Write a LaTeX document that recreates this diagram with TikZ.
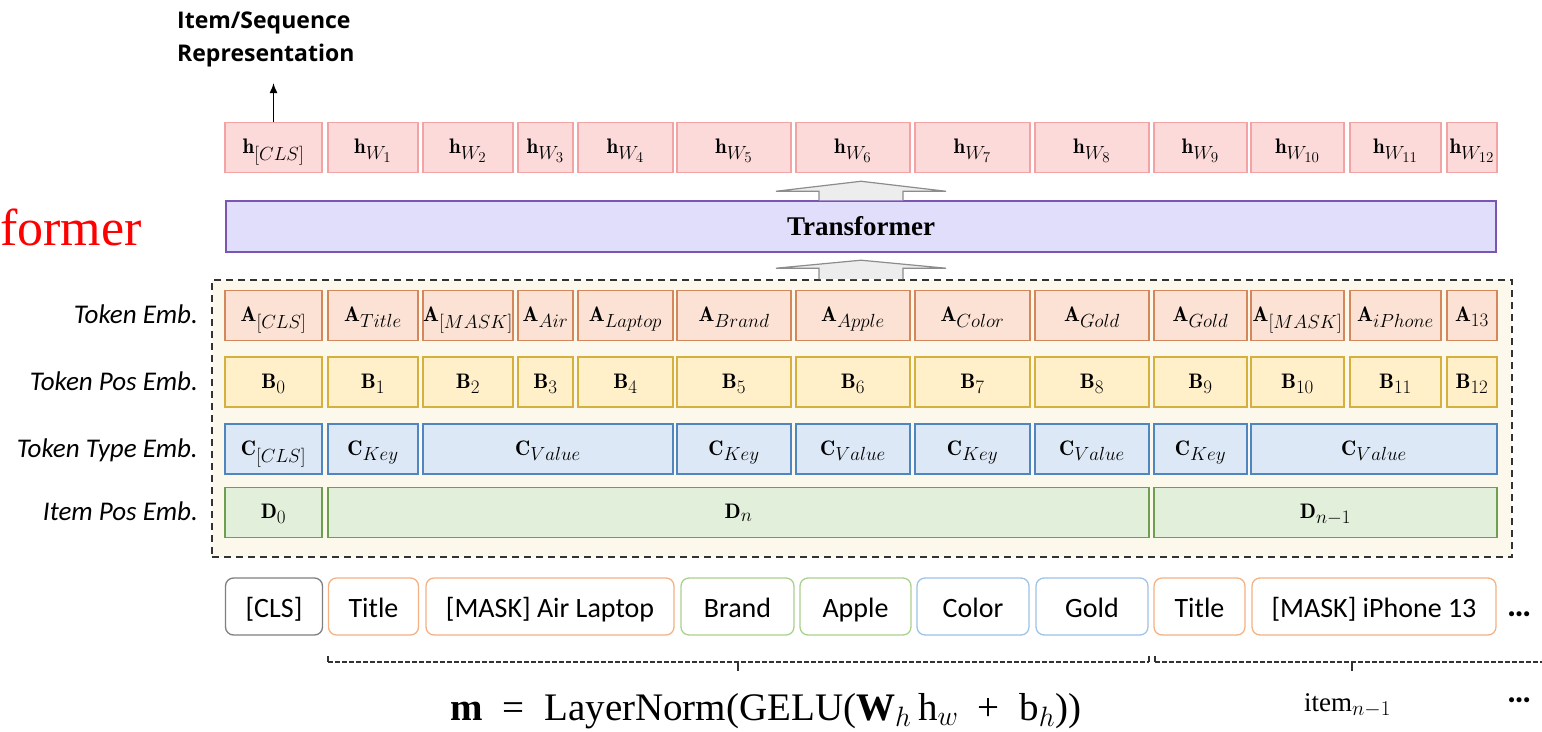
\RequirePackage{fix-cm}
\documentclass[tikz,border=0pt]{standalone}
\usepackage{fontspec}
\newfontfamily\cali{Carlito}
\newfontfamily\osans{Open Sans}
\newfontfamily\tnr{Liberation Serif}
\usetikzlibrary{arrows.meta}
\DeclareMathSizes{21}{21}{19}{15}
\DeclareMathSizes{27}{27}{21}{15}
\DeclareMathSizes{39}{39}{28}{21}

\definecolor{hfill}{HTML}{FCDADA}
\definecolor{hline}{HTML}{F2A3A3}
\definecolor{afill}{HTML}{FBE2D5}
\definecolor{aline}{HTML}{D4875A}
\definecolor{bfill}{HTML}{FFF0CA}
\definecolor{bline}{HTML}{D6B03C}
\definecolor{cfill}{HTML}{DCE8F6}
\definecolor{cline}{HTML}{4F86C0}
\definecolor{dfill}{HTML}{E2EFDA}
\definecolor{dline}{HTML}{6E9E4F}
\definecolor{tfill}{HTML}{E0DEFA}
\definecolor{tline}{HTML}{7A56B2}
\definecolor{efill}{HTML}{FDF8EC}
\definecolor{clsline}{HTML}{7F7F7F}
\definecolor{orline}{HTML}{F4B183}
\definecolor{grline}{HTML}{A9D18E}
\definecolor{blline}{HTML}{9DC3E6}

\begin{document}
\begin{tikzpicture}[x=1pt, y=-1pt,
  cell/.style={draw, line width=1.5pt, minimum height=50, inner sep=0pt, text height=16pt, text depth=4pt, font=\fontsize{21}{24}\selectfont},
  hcell/.style={cell, draw=hline, fill=hfill},
  acell/.style={cell, draw=aline, fill=afill},
  bcell/.style={cell, draw=bline, fill=bfill},
  ccell/.style={cell, draw=cline, fill=cfill},
  dcell/.style={cell, draw=dline, fill=dfill},
  rowlabel/.style={anchor=base east, inner sep=0pt, font=\cali\itshape\fontsize{27}{30}\selectfont},
  token/.style={draw, rounded corners=8pt, line width=1.3pt, fill=white, minimum height=57, inner sep=0pt, text height=21pt, text depth=0pt, font=\cali\fontsize{28}{32}\selectfont},
  dots/.style={inner sep=0pt, font=\cali\bfseries\fontsize{34}{36}\selectfont},
  blockarr/.style={draw=black!45, fill=black!7, line width=1.2pt, line join=miter},
  brace/.style={black!80, line width=1.1pt, dash pattern=on 5pt off 2pt},
  tick/.style={black!80, line width=1.3pt}]
\useasboundingbox (0,0) rectangle (1542,731);

\node[anchor=base west, inner sep=0pt, text=red, font=\tnr\fontsize{52}{56}\selectfont] (cut) at (0,245) {former};

\node[anchor=north west, align=left, inner sep=0pt, font=\osans\bfseries\fontsize{23}{33}\selectfont] (rep) at (177,12) {Item/Sequence\\Representation};
\coordinate (repout) at (273.5,83);

\node[hcell, minimum width=97] (h0) at (273.5,147.5) {$\mathbf{h}_{[CLS]}$};
\node[hcell, minimum width=90] (h1) at (373,147.5) {$\mathbf{h}_{W_1}$};
\node[hcell, minimum width=90] (h2) at (468,147.5) {$\mathbf{h}_{W_2}$};
\node[hcell, minimum width=55] (h3) at (545.5,147.5) {$\mathbf{h}_{W_3}$};
\node[hcell, minimum width=95] (h4) at (625.5,147.5) {$\mathbf{h}_{W_4}$};
\node[hcell, minimum width=114] (h5) at (734,147.5) {$\mathbf{h}_{W_5}$};
\node[hcell, minimum width=114] (h6) at (853,147.5) {$\mathbf{h}_{W_6}$};
\node[hcell, minimum width=115] (h7) at (972.5,147.5) {$\mathbf{h}_{W_7}$};
\node[hcell, minimum width=114] (h8) at (1092,147.5) {$\mathbf{h}_{W_8}$};
\node[hcell, minimum width=93] (h9) at (1200.5,147.5) {$\mathbf{h}_{W_9}$};
\node[hcell, minimum width=93] (h10) at (1297.5,147.5) {$\mathbf{h}_{W_{10}}$};
\node[hcell, minimum width=91] (h11) at (1395.5,147.5) {$\mathbf{h}_{W_{11}}$};
\node[hcell, minimum width=50] (h12) at (1472,147.5) {$\mathbf{h}_{W_{12}}$};

\node[cell, draw=tline, fill=tfill, minimum width=1270, minimum height=51, text height=18pt, text depth=0pt, font=\tnr\bfseries\fontsize{27}{30}\selectfont] (trans) at (861,226.5) {Transformer};

\node[draw=black!80, dash pattern=on 7pt off 5pt, line width=1.6pt, fill=efill, minimum width=1300, minimum height=277, inner sep=0pt] (emb) at (862,418.5) {};

\node[rowlabel] (la) at (198,323.5) {Token Emb.};
\node[rowlabel] (lb) at (198,390) {Token Pos Emb.};
\node[rowlabel] (lc) at (198,457) {Token Type Emb.};
\node[rowlabel] (ld) at (198,520.5) {Item Pos Emb.};

\node[acell, minimum width=97] (a0) at (273.5,315.5) {$\mathbf{A}_{[CLS]}$};
\node[acell, minimum width=90] (a1) at (373,315.5) {$\mathbf{A}_{Title}$};
\node[acell, minimum width=90] (a2) at (468,315.5) {$\mathbf{A}_{[MASK]}$};
\node[acell, minimum width=55] (a3) at (545.5,315.5) {$\mathbf{A}_{Air}$};
\node[acell, minimum width=95] (a4) at (625.5,315.5) {$\mathbf{A}_{Laptop}$};
\node[acell, minimum width=114] (a5) at (734,315.5) {$\mathbf{A}_{Brand}$};
\node[acell, minimum width=114] (a6) at (853,315.5) {$\mathbf{A}_{Apple}$};
\node[acell, minimum width=115] (a7) at (972.5,315.5) {$\mathbf{A}_{Color}$};
\node[acell, minimum width=114] (a8) at (1092,315.5) {$\mathbf{A}_{Gold}$};
\node[acell, minimum width=93] (a9) at (1200.5,315.5) {$\mathbf{A}_{Gold}$};
\node[acell, minimum width=93] (a10) at (1297.5,315.5) {$\mathbf{A}_{[MASK]}$};
\node[acell, minimum width=91] (a11) at (1395.5,315.5) {$\mathbf{A}_{iPhone}$};
\node[acell, minimum width=50] (a12) at (1472,315.5) {$\mathbf{A}_{13}$};

\node[bcell, minimum width=97] (b0) at (273.5,382) {$\mathbf{B}_{0}$};
\node[bcell, minimum width=90] (b1) at (373,382) {$\mathbf{B}_{1}$};
\node[bcell, minimum width=90] (b2) at (468,382) {$\mathbf{B}_{2}$};
\node[bcell, minimum width=55] (b3) at (545.5,382) {$\mathbf{B}_{3}$};
\node[bcell, minimum width=95] (b4) at (625.5,382) {$\mathbf{B}_{4}$};
\node[bcell, minimum width=114] (b5) at (734,382) {$\mathbf{B}_{5}$};
\node[bcell, minimum width=114] (b6) at (853,382) {$\mathbf{B}_{6}$};
\node[bcell, minimum width=115] (b7) at (972.5,382) {$\mathbf{B}_{7}$};
\node[bcell, minimum width=114] (b8) at (1092,382) {$\mathbf{B}_{8}$};
\node[bcell, minimum width=93] (b9) at (1200.5,382) {$\mathbf{B}_{9}$};
\node[bcell, minimum width=93] (b10) at (1297.5,382) {$\mathbf{B}_{10}$};
\node[bcell, minimum width=91] (b11) at (1395.5,382) {$\mathbf{B}_{11}$};
\node[bcell, minimum width=50] (b12) at (1472,382) {$\mathbf{B}_{12}$};

\node[ccell, minimum width=97] (c0) at (273.5,449) {$\mathbf{C}_{[CLS]}$};
\node[ccell, minimum width=90] (c1) at (373,449) {$\mathbf{C}_{Key}$};
\node[ccell, minimum width=250] (c2) at (548,449) {$\mathbf{C}_{Value}$};
\node[ccell, minimum width=114] (c3) at (734,449) {$\mathbf{C}_{Key}$};
\node[ccell, minimum width=114] (c4) at (853,449) {$\mathbf{C}_{Value}$};
\node[ccell, minimum width=115] (c5) at (972.5,449) {$\mathbf{C}_{Key}$};
\node[ccell, minimum width=114] (c6) at (1092,449) {$\mathbf{C}_{Value}$};
\node[ccell, minimum width=93] (c7) at (1200.5,449) {$\mathbf{C}_{Key}$};
\node[ccell, minimum width=246] (c8) at (1374,449) {$\mathbf{C}_{Value}$};

\node[dcell, minimum width=97] (d0) at (273.5,512.5) {$\mathbf{D}_{0}$};
\node[dcell, minimum width=821] (d1) at (738.5,512.5) {$\mathbf{D}_{n}$};
\node[dcell, minimum width=343] (d2) at (1325.5,512.5) {$\mathbf{D}_{n-1}$};

\node[token, draw=clsline, minimum width=97] (in0) at (274,606.5) {[CLS]};
\node[token, draw=orline, minimum width=90] (in1) at (373.5,606.5) {Title};
\node[token, draw=orline, minimum width=248] (in2) at (550,606.5) {[MASK] Air Laptop};
\node[token, draw=grline, minimum width=113] (in3) at (737.5,606.5) {Brand};
\node[token, draw=grline, minimum width=111] (in4) at (855.5,606.5) {Apple};
\node[token, draw=blline, minimum width=112] (in5) at (973,606.5) {Color};
\node[token, draw=blline, minimum width=112] (in6) at (1092,606.5) {Gold};
\node[token, draw=orline, minimum width=91] (in7) at (1199.5,606.5) {Title};
\node[token, draw=orline, minimum width=244] (in8) at (1374,606.5) {[MASK] iPhone 13};
\node[dots, anchor=base west] (more) at (1507,616) {…};

\draw[-{Latex[length=10pt,width=8pt]}, line width=1.5pt] (h0) -- (repout);
\draw[blockarr] (trans.north) ++(-42,0) -- ++(0,-9) -- ++(-43,0) -- ++(85,-10) -- ++(85,10) -- ++(-43,0) -- ++(0,9);
\draw[blockarr] (emb.north -| trans.north) ++(-42,0) -- ++(0,-11) -- ++(-43,0) -- ++(85,-8) -- ++(85,8) -- ++(-43,0) -- ++(0,11);

\draw[brace] (328,662) -- (1149,662);
\draw[brace] (1155,662) -- (1542,662);
\draw[tick] (328,656) -- (328,662);
\draw[tick] (1149,656) -- (1149,662);
\draw[tick] (1155,656) -- (1155,662);
\draw[tick] (738,662) -- (738,671);
\draw[tick] (1352,662) -- (1352,671);

\node[anchor=base, inner sep=0pt, font=\tnr\fontsize{39}{42}\selectfont] (eq) at (766,720) {\textbf{m}\enspace=\enspace LayerNorm(GELU(\textbf{W}$_{h}$\,h$_{w}$\enspace+\enspace b$_{h}$))};
\node[anchor=base west, inner sep=0pt, font=\tnr\fontsize{27}{30}\selectfont] (prev) at (1304,711) {item$_{n-1}$};
\node[dots, anchor=base west] (etc) at (1507,702) {…};
\end{tikzpicture}
\end{document}
